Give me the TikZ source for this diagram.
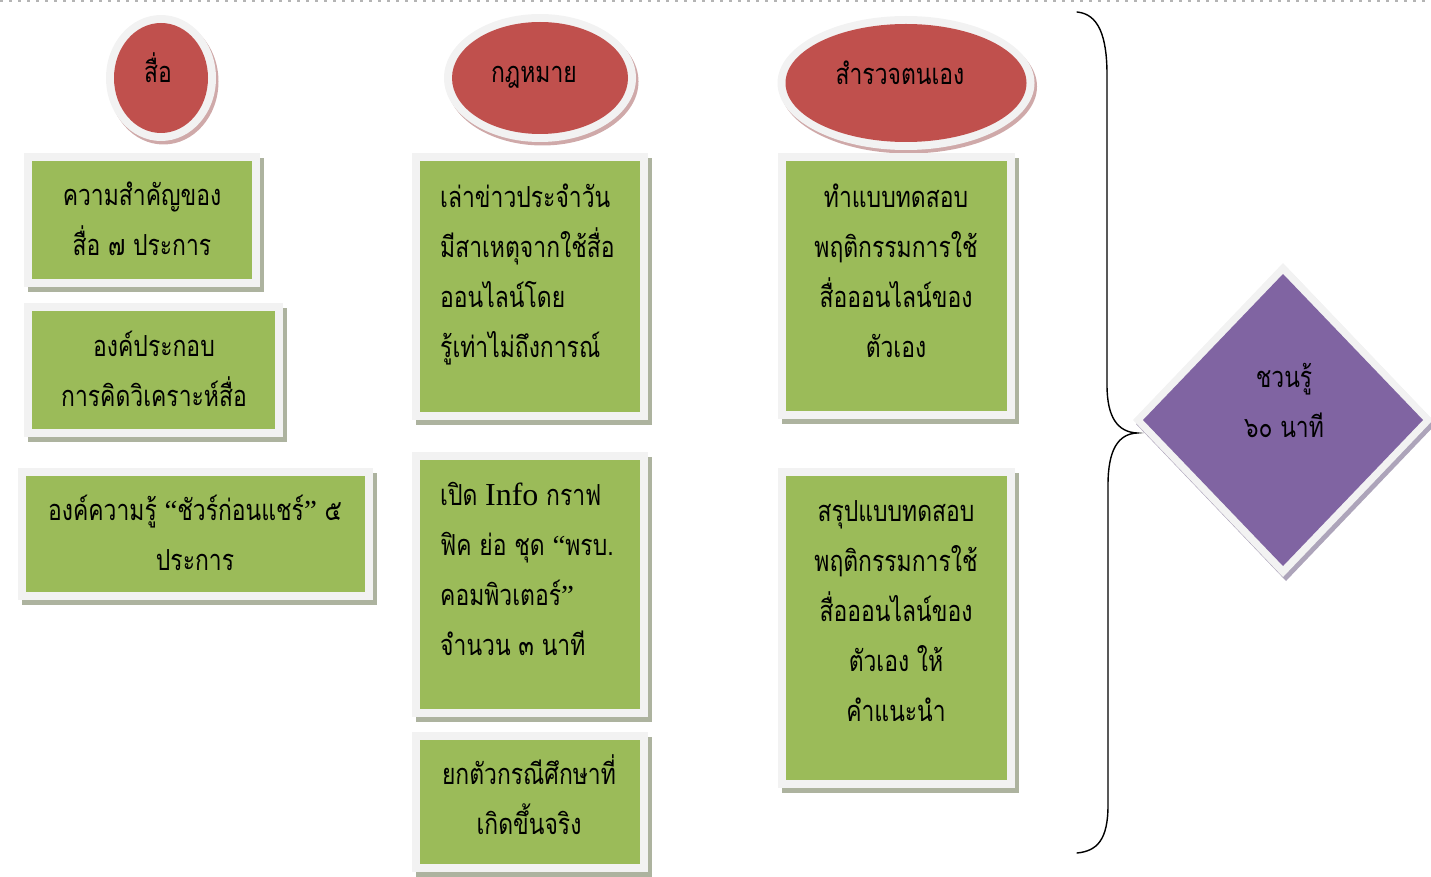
\documentclass[tikz,border=0pt]{standalone}
\usepackage{fontspec}
\newfontfamily\thaifam[Script=Thai,FakeStretch=0.79]{Loma}
\newfontfamily\latinserif{Liberation Serif}
\usetikzlibrary{shapes.geometric,shadows}
\definecolor{ellred}{HTML}{C0504D}
\definecolor{boxgreen}{HTML}{9BBB59}
\definecolor{diapurple}{HTML}{8064A2}
\definecolor{framegray}{HTML}{F2F2F2}
\definecolor{boxshadow}{HTML}{ADB39F}
\definecolor{ellshadow}{HTML}{CFA9A9}
\definecolor{diashadow}{HTML}{ADA4BA}
\definecolor{dashgray}{HTML}{B4B4B4}
\newcommand\oq{{\latinserif “}}
\newcommand\cq{{\latinserif ”}}
\tikzset{
  frame/.style={fill=framegray, draw=none, inner sep=0pt, outer sep=0pt},
  boxshape/.style 2 args={frame, rectangle, minimum width=#1, minimum height=#2,
    general shadow={fill=boxshadow, shadow xshift=4pt, shadow yshift=-5pt},
    path picture={\fill[boxgreen] ([shift={(8pt,-8pt)}]path picture bounding box.north west)
      rectangle ([shift={(-8pt,8pt)}]path picture bounding box.south east);}},
  ellshape/.style 2 args={frame, ellipse, minimum width=#1, minimum height=#2,
    general shadow={fill=ellshadow, shadow xshift=2.5pt, shadow yshift=-3.5pt},
    path picture={\fill[ellred] (path picture bounding box.center)
      ellipse [x radius={#1/2-8pt}, y radius={#2/2-8pt}];}},
  diashape/.style={frame, diamond, minimum width=300pt, minimum height=314pt,
    general shadow={fill=diashadow, shadow xshift=3pt, shadow yshift=-4pt},
    path picture={\fill[diapurple] ([yshift=-11pt]path picture bounding box.north)
      -- ([xshift=-10pt]path picture bounding box.east)
      -- ([yshift=11pt]path picture bounding box.south)
      -- ([xshift=10pt]path picture bounding box.west) -- cycle;}},
  txt/.style={font=\thaifam\fontsize{29}{50}\selectfont, align=center, inner sep=0pt, anchor=base, text=black},
  ltxt/.style={txt, align=left, anchor=base west},
  dashline/.style={draw=dashgray, line width=1.2pt, dash pattern=on 3pt off 6pt},
  bracestyle/.style={draw=black, line width=1.4pt, line cap=round},
}
\begin{document}
\begin{tikzpicture}[x=1pt, y=-1pt]
\useasboundingbox (0,0) rectangle (1431,877);
% top dashed rule
\coordinate (dl) at (0,1);
\coordinate (dr) at (1431,1);
\draw[dashline] (dl) -- (dr);

% ellipses
\node[ellshape={110pt}{126pt}] (e1) at (161,78) {};
\node[txt] (e1t) at (158,83) {สื่อ};
\node[ellshape={192pt}{128pt}] (e2) at (540,78) {};
\node[txt] (e2t) at (534,83) {กฎหมาย};
\node[ellshape={257pt}{134pt}] (e3) at (906,83) {};
\node[txt] (e3t) at (900,85) {สำรวจตนเอง};

% column 1
\node[boxshape={236pt}{134pt}] (b1) at (142,220) {};
\node[txt] (b1t) at (142,255) {ความสำคัญของ\\สื่อ ๗ ประการ};
\node[boxshape={259pt}{134pt}] (b2) at (153.5,370) {};
\node[txt] (b2t) at (154,406) {องค์ประกอบ\\การคิดวิเคราะห์สื่อ};
\node[boxshape={355pt}{132pt}] (b3) at (195.5,534) {};
\node[txt] (b3t) at (195,570) {องค์ความรู้ \oq ชัวร์ก่อนแชร์\cq{} ๕\\ประการ};

% column 2
\node[boxshape={236pt}{266pt}] (b4) at (530,286.5) {};
\node[ltxt] (b4t) at (440,357) {เล่าข่าวประจำวัน\\มีสาเหตุจากใช้สื่อ\\ออนไลน์โดย\\รู้เท่าไม่ถึงการณ์};
\node[boxshape={236pt}{265pt}] (b5) at (530,584.5) {};
\node[ltxt] (b5t) at (440,655) {เปิด {\latinserif\fontsize{32}{50}\selectfont Info} กราฟ\\ฟิค ย่อ ชุด \oq พรบ.\\คอมพิวเตอร์\cq\\จำนวน ๓ นาที};
\node[boxshape={236pt}{140pt}] (b6) at (530,802) {};
\node[txt] (b6t) at (529,834) {ยกตัวกรณีศึกษาที่\\เกิดขึ้นจริง};

% column 3
\node[boxshape={237pt}{266pt}] (b7) at (896.5,286) {};
\node[txt] (b7t) at (896,357) {ทำแบบทดสอบ\\พฤติกรรมการใช้\\สื่อออนไลน์ของ\\ตัวเอง};
\node[boxshape={237pt}{320pt}] (b8) at (896.5,628) {};
\node[txt] (b8t) at (896,721) {สรุปแบบทดสอบ\\พฤติกรรมการใช้\\สื่อออนไลน์ของ\\ตัวเอง ให้\\คำแนะนำ};

% brace
\coordinate (bt) at (1077,12);
\coordinate (btip) at (1137,433);
\coordinate (bb) at (1077,853);
\draw[bracestyle] (bt) .. controls (1098,14) and (1107,35) .. (1107,75)
  -- (1107,385) .. controls (1107,418) and (1118,432) .. (btip)
  .. controls (1118,434) and (1108,450) .. (1108,485)
  -- (1108,805) .. controls (1108,840) and (1097,851) .. (bb);

% diamond
\node[diashape] (d) at (1283,420) {};
\node[txt] (dt) at (1284,437) {ชวนรู้\\๖๐ นาที};
\end{tikzpicture}
\end{document}
